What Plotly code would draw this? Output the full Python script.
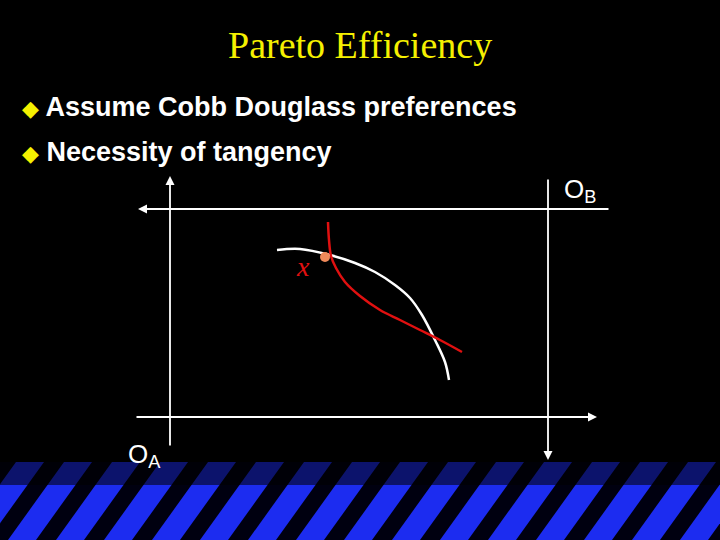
import plotly.graph_objects as go

# curve data (slide pixel coordinates)
indiff_A_x = [277, 300, 330, 355, 375, 395, 410, 422, 435, 445, 449]
indiff_A_y = [250, 249, 255, 263, 272, 285, 298, 315, 340, 362, 380]
indiff_B_x = [328, 329, 331, 336, 345, 360, 380, 400, 420, 440, 462]
indiff_B_y = [222, 240, 256, 268, 282, 296, 310, 320, 330, 340, 352]
point_x = [325]
point_y = [257]

fig = go.Figure()

shapes = []
shapes.append(dict(type="rect", x0=0, x1=720, y0=462, y1=540, fillcolor="#000010", line_width=0, layer="below"))
for i in range(-3, 20):
    x0 = i * 48
    shapes.append(dict(type="path",
        path=f"M {x0+8},540 L {x0+36},540 L {x0+92},462 L {x0+64},462 Z",
        fillcolor="#1c2cf0", line_width=0, layer="below"))
shapes.append(dict(type="rect", x0=0, x1=720, y0=462, y1=485, fillcolor="rgba(0,0,0,0.55)", line_width=0, layer="below"))

fig.add_trace(go.Scatter(x=indiff_A_x, y=indiff_A_y, mode="lines", line=dict(color="white", width=2.5, shape="spline"), hoverinfo="skip"))
fig.add_trace(go.Scatter(x=indiff_B_x, y=indiff_B_y, mode="lines", line=dict(color="#e01010", width=2.5, shape="spline"), hoverinfo="skip"))
fig.add_trace(go.Scatter(x=point_x, y=point_y, mode="markers", marker=dict(color="#f08a5a", size=10), hoverinfo="skip"))

def arrow(x, y, ax, ay):
    fig.add_annotation(x=x, y=y, ax=ax, ay=ay, xref="x", yref="y", axref="x", ayref="y",
                       showarrow=True, arrowhead=2, arrowsize=1, arrowwidth=1.8, arrowcolor="white", text="")

arrow(170, 176, 170, 447)
arrow(597, 417, 135, 417)
arrow(138, 209, 610, 209)
arrow(548, 460, 548, 178)

fig.add_annotation(x=360, y=45, text="Pareto Efficiency", showarrow=False,
                   font=dict(family="Liberation Serif", size=38, color="#f5f000"))
fig.add_annotation(x=20, y=107, xanchor="left", showarrow=False,
                   text="<span style='color:#f5f000;font-size:22px'>◆</span><b> Assume Cobb Douglass preferences</b>",
                   font=dict(family="Liberation Sans", size=27, color="white"))
fig.add_annotation(x=20, y=152, xanchor="left", showarrow=False,
                   text="<span style='color:#f5f000;font-size:22px'>◆</span><b> Necessity of tangency</b>",
                   font=dict(family="Liberation Sans", size=27, color="white"))
fig.add_annotation(x=126, y=455, xanchor="left", showarrow=False, text="O<sub>A</sub>",
                   font=dict(family="Liberation Sans", size=26, color="white"))
fig.add_annotation(x=562, y=190, xanchor="left", showarrow=False, text="O<sub>B</sub>",
                   font=dict(family="Liberation Sans", size=26, color="white"))
fig.add_annotation(x=303, y=266, showarrow=False, text="<i>x</i>",
                   font=dict(family="Liberation Serif", size=28, color="#e01010"))

fig.update_layout(width=720, height=540, margin=dict(l=0, r=0, t=0, b=0),
                  paper_bgcolor="black", plot_bgcolor="black", showlegend=False, shapes=shapes,
                  xaxis=dict(range=[0, 720], visible=False, fixedrange=True),
                  yaxis=dict(range=[540, 0], visible=False, fixedrange=True))
fig.write_html("out.html", config={"displayModeBar": False},
               post_script="document.body.style.margin='0';document.body.style.background='black';")
